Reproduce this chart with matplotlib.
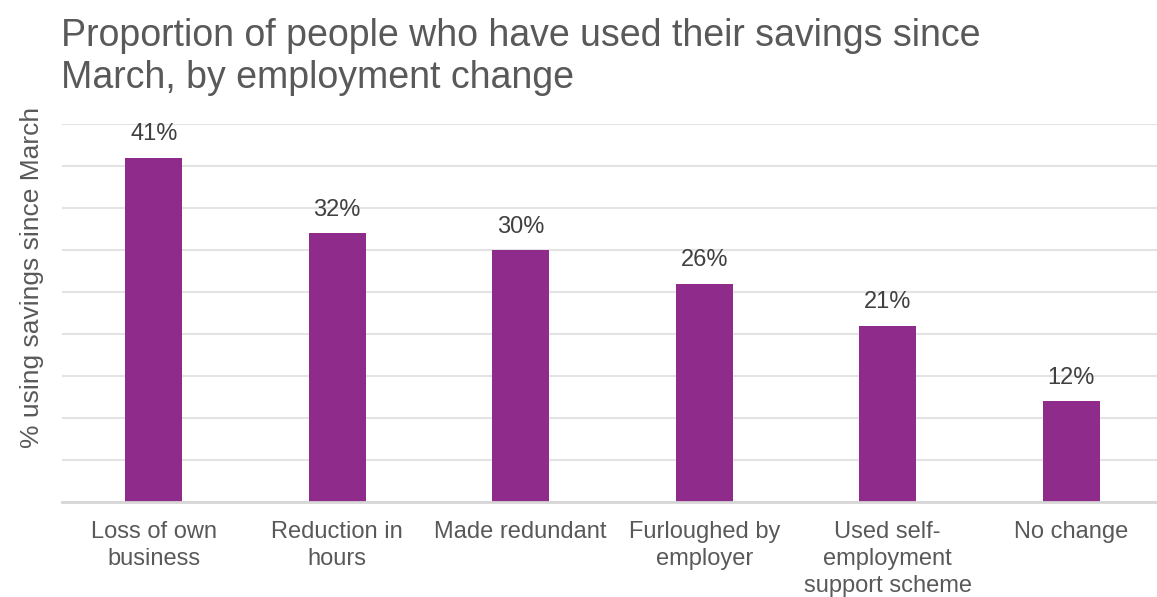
import matplotlib.pyplot as plt
import numpy as np

plt.rcParams['font.family'] = ['Liberation Sans', 'DejaVu Sans']

categories = ['Loss of own\nbusiness', 'Reduction in\nhours', 'Made redundant',
              'Furloughed by\nemployer', 'Used self-\nemployment\nsupport scheme', 'No change']
values = [41, 32, 30, 26, 21, 12]

BAR_COLOR = '#8E2B8B'
TEXT_COLOR = '#595959'
LABEL_COLOR = '#404040'
GRID_COLOR = '#E3E3E3'

W, H = 1157, 597
fig = plt.figure(figsize=(W / 100, H / 100), dpi=100)

# axes box in pixels: left 62, right 1163, bottom 502, top 124
left, right, bottom, top = 62, 1163, 502, 124
ax = fig.add_axes([left / W, 1 - bottom / H, (right - left) / W, (bottom - top) / H])

x = np.arange(len(categories))
ax.bar(x, values, width=0.31, color=BAR_COLOR, zorder=3)

for xi, v in zip(x, values):
    ax.annotate(f'{v}%', (xi, v), xytext=(0, 9), textcoords='offset points',
                ha='center', va='bottom', fontsize=17, color=LABEL_COLOR)

ax.set_xlim(-0.5, len(categories) - 0.5)
ax.set_ylim(0, 45)
ax.set_yticks(np.arange(0, 46, 5))
ax.set_yticklabels([])
ax.grid(axis='y', color=GRID_COLOR, linewidth=1.5, zorder=0)
ax.tick_params(axis='both', length=0)
ax.set_xticks(x)
ax.set_xticklabels(categories, fontsize=17, color=TEXT_COLOR, linespacing=1.27)
ax.tick_params(axis='x', pad=14)

for side in ['top', 'right', 'left']:
    ax.spines[side].set_visible(False)
ax.spines['bottom'].set_color('#D6D6D6')
ax.spines['bottom'].set_linewidth(2)
ax.spines['bottom'].set_zorder(4)

ax.set_ylabel('% using savings since March', fontsize=19, color=TEXT_COLOR)
ax.yaxis.set_label_coords(-18 / (right - left), 0.595)

fig.text(61 / W, 1 - 18 / H,
         'Proportion of people who have used their savings since\nMarch, by employment change',
         ha='left', va='top', fontsize=27, color=TEXT_COLOR, linespacing=1.2)

fig.savefig('out.png', dpi=100)
